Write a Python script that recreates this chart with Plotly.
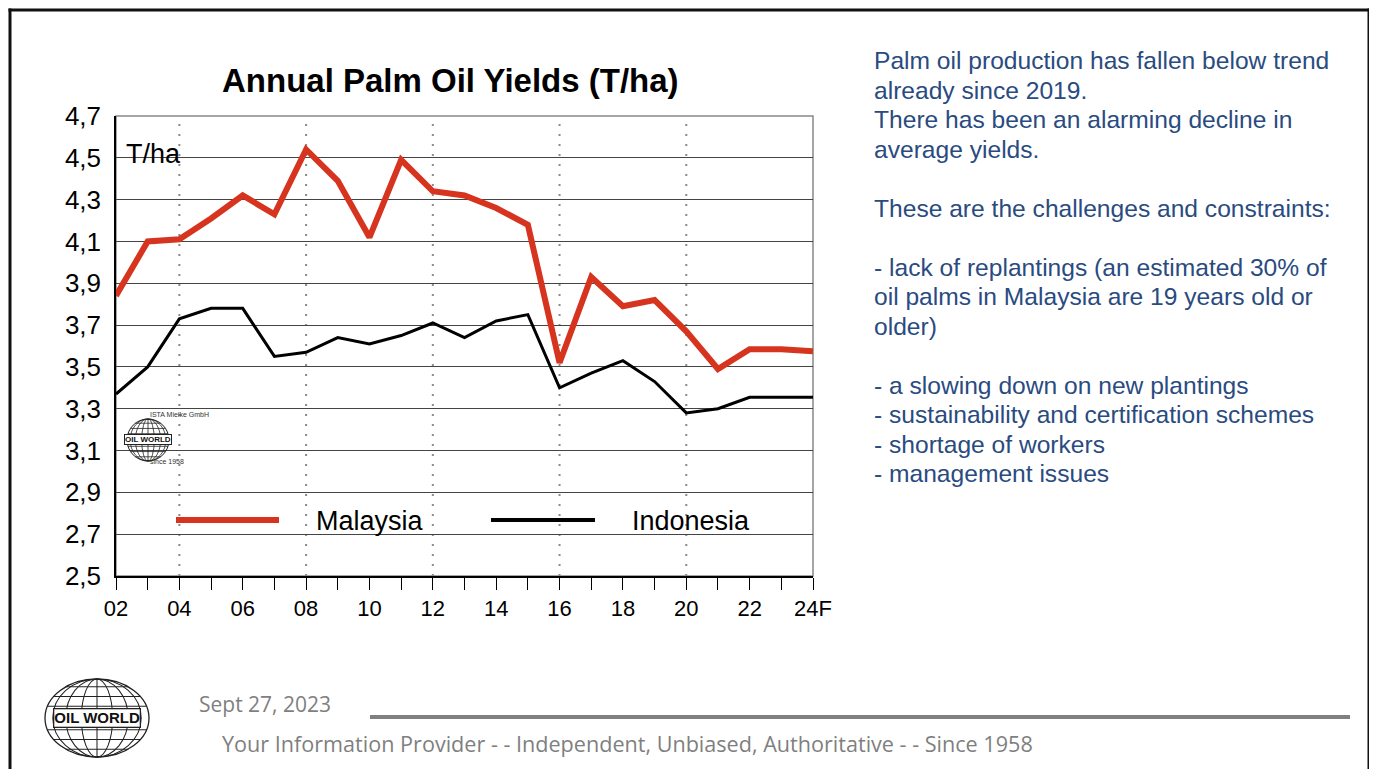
import math
import plotly.graph_objects as go

# data
years = list(range(2002, 2025))
malaysia = [3.84, 4.10, 4.11, 4.21, 4.32, 4.23, 4.54, 4.39, 4.12, 4.49, 4.34,
            4.32, 4.26, 4.18, 3.52, 3.93, 3.79, 3.82, 3.67, 3.49, 3.585, 3.585, 3.575]
indonesia = [3.37, 3.50, 3.73, 3.78, 3.78, 3.55, 3.57, 3.64, 3.61, 3.65, 3.71,
             3.64, 3.72, 3.75, 3.40, 3.47, 3.53, 3.43, 3.28, 3.30, 3.355, 3.355, 3.355]

x_tickvals = list(range(2002, 2025, 2))
x_ticktext = ["02", "04", "06", "08", "10", "12", "14", "16", "18", "20", "22", "24F"]
y_tickvals = [2.5, 2.7, 2.9, 3.1, 3.3, 3.5, 3.7, 3.9, 4.1, 4.3, 4.5, 4.7]
y_ticktext = ["2,5", "2,7", "2,9", "3,1", "3,3", "3,5", "3,7", "3,9", "4,1", "4,3", "4,5", "4,7"]
dotted_years = [2004, 2008, 2012, 2016, 2020]

side_text = [
    "Palm oil production has fallen below trend",
    "already since 2019.",
    "There has been an alarming decline in",
    "average yields.",
    "",
    "These are the challenges and constraints:",
    "",
    "- lack of replantings (an estimated 30% of",
    "oil palms in Malaysia are 19 years old or",
    "older)",
    "",
    "- a slowing down on new plantings",
    "- sustainability and certification schemes",
    "- shortage of workers",
    "- management issues",
]

RED = "#D6341E"
BLUE = "#294B80"
GREY = "#7F7F7F"
FONT = "Liberation Sans, Arial, sans-serif"

# page body has an 8px margin, so the figure sits at (8, 8) in the window
OFF = 8
W_PX, H_PX = 1377 - OFF, 769 - OFF
L, R, T, B = 116, 813, 116, 576   # plot area in window pixels


def px(x):
    return (x - L) / (R - L)


def py(y):
    return (B - y) / (B - T)


fig = go.Figure()
fig.add_trace(go.Scatter(x=years, y=malaysia, mode="lines", name="Malaysia",
                         line=dict(color=RED, width=6)))
fig.add_trace(go.Scatter(x=years, y=indonesia, mode="lines", name="Indonesia",
                         line=dict(color="black", width=3)))

shapes = []
annotations = []

# slide border (left, top, right)
bl = dict(color="#111", width=3)
shapes.append(dict(type="line", xref="paper", yref="paper", x0=px(10), x1=px(10),
                   y0=py(769), y1=py(8.5), line=bl))
shapes.append(dict(type="line", xref="paper", yref="paper", x0=px(8.5), x1=px(1370.5),
                   y0=py(10), y1=py(10), line=bl))
shapes.append(dict(type="line", xref="paper", yref="paper", x0=px(1369), x1=px(1369),
                   y0=py(769), y1=py(8.5), line=bl))
# plot frame (grey top/right)
shapes.append(dict(type="rect", xref="paper", yref="paper", x0=0, x1=1, y0=0, y1=1,
                   line=dict(color="#888", width=1.5), layer="below"))
# dotted vertical guides
for yr in dotted_years:
    shapes.append(dict(type="line", xref="x", yref="paper", x0=yr, x1=yr, y0=0, y1=1,
                       line=dict(color="#8a8a8a", width=2, dash="2px,8px"), layer="below"))

# custom legend
for (x0, x1, col, lw, label, tx) in [(176, 279, RED, 6, "Malaysia", 314),
                                     (491, 595, "black", 4, "Indonesia", 630)]:
    shapes.append(dict(type="line", xref="paper", yref="paper", x0=px(x0), x1=px(x1),
                       y0=py(520), y1=py(520), line=dict(color=col, width=lw)))
    annotations.append(dict(xref="paper", yref="paper", x=px(tx), y=py(521), text=label,
                            showarrow=False, xanchor="left", yanchor="middle",
                            font=dict(size=27, color="black", family=FONT)))


def globe(cx, cy, rx, ry, txt_size, lw):
    out = [dict(type="circle", xref="paper", yref="paper", x0=px(cx - rx), x1=px(cx + rx),
                y0=py(cy + ry), y1=py(cy - ry), line=dict(color="#222", width=lw))]
    for k in (0.3, 0.6, 0.85):
        out.append(dict(type="circle", xref="paper", yref="paper",
                        x0=px(cx - rx * k), x1=px(cx + rx * k),
                        y0=py(cy + ry), y1=py(cy - ry), line=dict(color="#222", width=lw * 0.8)))
    out.append(dict(type="line", xref="paper", yref="paper", x0=px(cx), x1=px(cx),
                    y0=py(cy + ry), y1=py(cy - ry), line=dict(color="#222", width=lw * 0.8)))
    for f in (-0.8, -0.55, -0.3, 0.3, 0.55, 0.8):
        hw = rx * math.sqrt(1 - f * f)
        out.append(dict(type="line", xref="paper", yref="paper", x0=px(cx - hw), x1=px(cx + hw),
                        y0=py(cy + f * ry), y1=py(cy + f * ry), line=dict(color="#222", width=lw * 0.8)))
    ann = dict(xref="paper", yref="paper", x=px(cx), y=py(cy), text="<b>OIL WORLD</b>",
               showarrow=False, xanchor="center", yanchor="middle", bgcolor="white",
               bordercolor="#222", borderwidth=lw, borderpad=0,
               font=dict(size=txt_size, color="#111", family=FONT))
    return out, ann


s, a = globe(148, 440, 21, 21, 8, 1)
shapes += s
annotations.append(a)
annotations.append(dict(xref="paper", yref="paper", x=px(148), y=py(414), text="ISTA Mielke GmbH",
                        showarrow=False, font=dict(size=7, color="#333", family=FONT)))
annotations.append(dict(xref="paper", yref="paper", x=px(148), y=py(467), text="since 1958",
                        showarrow=False, font=dict(size=7, color="#333", family=FONT)))

s, a = globe(97, 718, 52, 39, 15, 1.3)
shapes += s
annotations.append(a)

# footer
shapes.append(dict(type="line", xref="paper", yref="paper", x0=px(370), x1=px(1350),
                   y0=py(717), y1=py(717), line=dict(color="#808080", width=4)))
annotations.append(dict(xref="paper", yref="paper", x=px(197), y=py(704), text="Sept 27, 2023",
                        showarrow=False, xanchor="left", yanchor="middle",
                        font=dict(size=21, color=GREY, family="Open Sans, sans-serif")))
annotations.append(dict(xref="paper", yref="paper", x=px(220), y=py(743),
                        text="Your Information Provider - - Independent, Unbiased, Authoritative - - Since 1958",
                        showarrow=False, xanchor="left", yanchor="middle",
                        font=dict(size=21.6, color=GREY, family="Open Sans, sans-serif")))

# title and unit
annotations.append(dict(xref="paper", yref="paper", x=px(450), y=py(80),
                        text="<b>Annual Palm Oil Yields (T/ha)</b>", showarrow=False,
                        xanchor="center", yanchor="middle",
                        font=dict(size=33, color="black", family=FONT)))
annotations.append(dict(xref="paper", yref="paper", x=px(124), y=py(154), text="T/ha",
                        showarrow=False, xanchor="left", yanchor="middle",
                        font=dict(size=27, color="black", family=FONT)))

# side text
for i, line in enumerate(side_text):
    if not line:
        continue
    annotations.append(dict(xref="paper", yref="paper", x=px(872), y=py(60.5 + i * 29.5),
                            text=line, showarrow=False, xanchor="left", yanchor="middle",
                            font=dict(size=24.6, color=BLUE, family=FONT)))

fig.update_layout(
    width=W_PX, height=H_PX,
    margin=dict(l=L - OFF, r=1377 - R, t=T - OFF, b=769 - B),
    paper_bgcolor="white", plot_bgcolor="white",
    showlegend=False,
    font=dict(family=FONT, color="black"),
    shapes=shapes, annotations=annotations,
    xaxis=dict(range=[2002, 2024], tickvals=x_tickvals, ticktext=x_ticktext,
               showgrid=False, zeroline=False, showline=True, linecolor="black", linewidth=1.5,
               ticks="outside", ticklen=12, tickcolor="black", tickwidth=1.2,
               minor=dict(tickvals=years, ticks="outside", ticklen=12, tickcolor="black", tickwidth=1.2),
               tickfont=dict(size=22, color="black")),
    yaxis=dict(range=[2.5, 4.7], tickvals=y_tickvals, ticktext=y_ticktext,
               showgrid=True, gridcolor="#444", gridwidth=1, zeroline=False,
               showline=True, linecolor="black", linewidth=1.5, ticks="",
               ticklabelstandoff=8, tickfont=dict(size=26, color="black")),
)

fig.write_html("out.html")
